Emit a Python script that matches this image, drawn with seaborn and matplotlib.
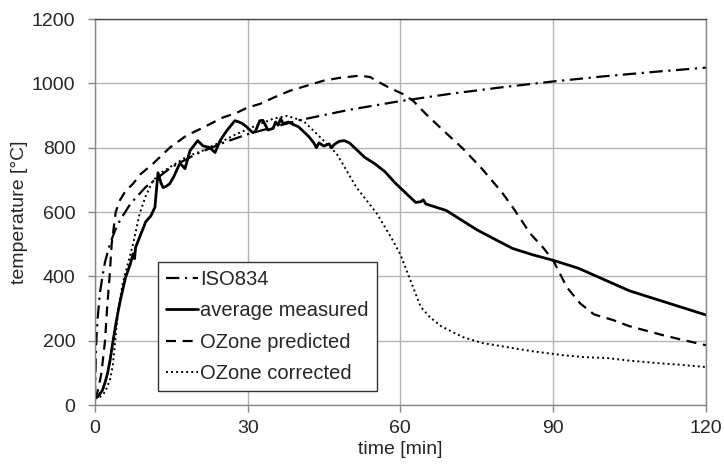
# -*- coding: utf-8 -*-
"""
Fire test: ISO834 vs measured vs OZone predictions.
"""

# %% 0 - Import libraries.

import pandas as pd
import matplotlib
matplotlib.use("Agg")
import matplotlib.pyplot as plt
import seaborn as sns


# %% 1 (time [min], temperature [C]).

iso_t = [0, 0.25, 0.5, 1, 1.5, 2, 3, 4, 5, 7, 10, 15, 20, 25, 30, 40, 50,
         60, 70, 80, 90, 100, 110, 120]
iso_T = [20, 185, 261, 349, 400, 445, 502, 544, 576, 626, 678, 739, 781, 814,
         842, 885, 918, 945, 968, 988, 1006, 1022, 1036, 1049]

meas_t = [0, 0.5, 1, 1.5, 2, 2.5, 3, 3.5, 4, 4.5, 5, 6, 7, 7.5, 7.8, 8, 9,
          10, 11, 11.8, 12.4, 13, 13.4, 14, 14.7, 15.5, 16.7, 17.7, 18.7,
          20.2, 21.2, 22.6, 23.6, 24.6, 25.9, 27.5, 28.3, 29.1, 30, 31, 31.5,
          32.4, 33, 34, 35, 35.5, 36, 36.5, 37, 38, 39, 40, 41, 42, 43, 43.5,
          44, 45, 46, 46.5, 47, 48, 49, 50, 51, 52, 53, 55, 57, 59, 61, 63,
          64, 64.5, 65, 67, 69, 72, 75, 78, 82, 86, 90, 95, 100, 105, 110,
          115, 120]
meas_T = [20, 25, 35, 46, 70, 99, 140, 192, 240, 285, 325, 395, 440, 470, 455,
          490, 530, 570, 588, 615, 722, 690, 676, 680, 688, 710, 752, 735,
          791, 822, 806, 800, 785, 822, 853, 884, 880, 874, 862, 847, 850,
          884, 885, 855, 860, 880, 870, 890, 875, 880, 872, 865, 850, 835,
          815, 800, 815, 805, 812, 800, 810, 820, 822, 815, 800, 785, 770,
          750, 725, 690, 660, 630, 632, 638, 625, 615, 605, 575, 545, 520,
          487, 467, 450, 425, 390, 355, 330, 305, 280]

pred_t = [0, 0.5, 1, 1.3, 2, 2.4, 2.9, 3.3, 4.1, 4.9, 6, 7.5, 9, 11.4, 14.7,
          18, 21.2, 25, 27.9, 30, 32.4, 35, 38.3, 40, 44.8, 48, 52, 54, 56,
          58, 60.5, 62.5, 65, 68, 72.3, 76, 80, 82.1, 85.5, 88, 90, 92.7,
          95.3, 98, 101.8, 105, 111.6, 115, 120]
pred_T = [20, 40, 75, 100, 200, 300, 400, 500, 600, 636, 665, 688, 718, 750,
          800, 838, 862, 893, 909, 925, 936, 955, 977, 985, 1008, 1017, 1024,
          1020, 1002, 985, 967, 946, 905, 860, 797, 735, 660, 614, 533, 490,
          450, 366, 316, 282, 264, 245, 217, 204, 186]

corr_t = [0, 1, 2, 3, 3.5, 4, 4.6, 5.5, 6.5, 7.5, 8.8, 10, 11.4, 13, 15.3,
          18, 21.2, 25, 27.9, 32.4, 35, 37.7, 40.9, 43.6, 47.5, 51.4, 55.4,
          58.3, 60, 62.5, 64, 65.8, 68, 72.3, 76, 82.1, 86, 91.9, 96, 100.6,
          105, 110, 115, 120]
corr_T = [20, 25, 40, 80, 120, 200, 300, 380, 440, 500, 595, 650, 698, 722,
          745, 772, 791, 820, 843, 874, 890, 899, 884, 843, 781, 676, 595,
          518, 468, 366, 305, 273, 245, 211, 193, 177, 167, 155, 149, 146,
          138, 131, 125, 118]

labels = ["ISO834", "average measured", "OZone predicted", "OZone corrected"]


# %% 2 - Plot.

sns.set_style("white")
plt.rcParams["font.family"] = ["Liberation Sans", "DejaVu Sans"]
plt.rcParams["font.size"] = 14

fig = plt.figure(figsize = (7.24, 4.65), dpi = 100)
ax = fig.add_axes([0.131, 0.129, 0.844, 0.830])

styles = [
    (iso_t, iso_T, (0, (6, 2.5, 1, 2.5)), 1.6),
    (meas_t, meas_T, "-", 2.0),
    (pred_t, pred_T, (0, (4.5, 3)), 1.6),
    (corr_t, corr_T, (0, (1, 1.6)), 1.4),
]

for (t, T, ls, lw), lab in zip(styles, labels):
    sns.lineplot(x = t, y = T, ax = ax, color = "black", linestyle = ls,
                 linewidth = lw, label = lab, sort = False,
                 estimator = None)

ax.set_xlim(0, 120)
ax.set_ylim(0, 1200)
ax.set_xticks([0, 30, 60, 90, 120])
ax.set_yticks(range(0, 1201, 200))

ax.grid(True, color = "#b4b4b4", linewidth = 1.0)
for s in ax.spines.values():
    s.set_color("#888888")
    s.set_linewidth(1.0)
ax.spines["top"].set_color("#444444")

ax.tick_params(axis = "both", direction = "out", length = 5, width = 1,
               color = "#888888", labelsize = 14,
               left = True, bottom = True)
ax.tick_params(axis = "x", pad = 6)
ax.tick_params(axis = "y", pad = 9)

ax.set_xlabel("time [min]", fontsize = 14, labelpad = 3)
ax.set_ylabel("temperature [°C]", fontsize = 14, labelpad = 3)

leg = ax.legend(loc = "lower left", bbox_to_anchor = (0.103, 0.036),
                borderaxespad = 0, frameon = True, fancybox = False,
                framealpha = 1, edgecolor = "#333333", fontsize = 14.5,
                handlelength = 1.6, handletextpad = 0.1,
                labelspacing = 0.62, borderpad = 0.4)
leg.get_frame().set_linewidth(1.0)

fig.savefig("out.png", dpi = 100)
